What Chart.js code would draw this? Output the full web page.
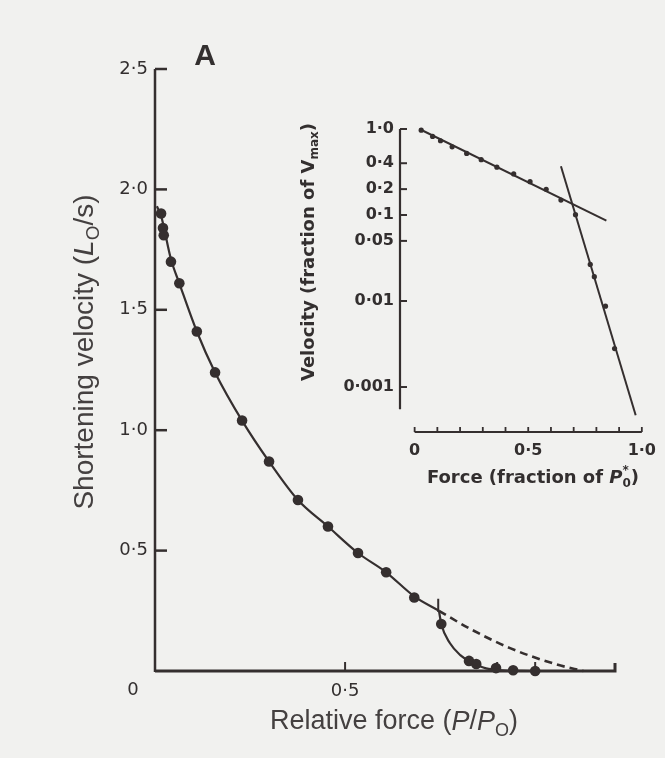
<!DOCTYPE html>
<html>
<head>
<meta charset="utf-8">
<script src="https://cdn.jsdelivr.net/npm/chart.js@4.4.1/dist/chart.umd.min.js"></script>
<style>
  html, body { margin: 0; padding: 0; background: #f1f1ef; }
  #wrap { position: relative; width: 665px; height: 758px; overflow: hidden; }
  #main { position: absolute; left: 0; top: 0; }
  #inset { position: absolute; left: 290px; top: 95px; }
</style>
</head>
<body>
<div id="wrap">
  <canvas id="main" width="665" height="758"></canvas>
  <canvas id="inset" width="375" height="420"></canvas>
</div>
<script>
// Main panel: measured points (relative force P/Po, shortening velocity Lo/s)
const forcePts = [0.016, 0.021, 0.023, 0.042, 0.064, 0.110, 0.158, 0.229, 0.300, 0.376, 0.455, 0.534, 0.608, 0.682, 0.753, 0.826, 0.845, 0.897, 0.942, 1.0];
const velPts   = [1.90, 1.84, 1.81, 1.70, 1.61, 1.41, 1.24, 1.04, 0.87, 0.71, 0.60, 0.49, 0.41, 0.305, 0.195, 0.042, 0.029, 0.012, 0.003, 0.0];

// Hyperbola (solid part), its dashed extrapolation and the high-force branch
const fitF  = [0.005, 0.016, 0.042, 0.064, 0.110, 0.158, 0.229, 0.300, 0.376, 0.455, 0.534, 0.608, 0.682, 0.747];
const fitV  = [1.93, 1.89, 1.71, 1.61, 1.41, 1.24, 1.04, 0.87, 0.71, 0.60, 0.49, 0.41, 0.31, 0.25];
const dashF = [0.747, 0.829, 0.934, 1.057, 1.127];
const dashV = [0.25, 0.175, 0.095, 0.027, 0.0];
const highF = [0.747, 0.753, 0.776, 0.803, 0.829, 0.871, 0.913, 0.992];
const highV = [0.25, 0.195, 0.115, 0.066, 0.039, 0.011, 0.003, 0.0];
const breakF = [0.745, 0.745];
const breakV = [0.30, 0.245];

// Main axes
const yTicksMain = [0.5, 1.0, 1.5, 2.0, 2.5];
const xLabelsMain = [0.5];
const xMarksMain = [0.5, 0.9, 1.0];

// Inset: log velocity (fraction of Vmax) against force (fraction of Po*)
const insetF = [0.029, 0.079, 0.114, 0.165, 0.229, 0.293, 0.362, 0.436, 0.508, 0.579, 0.644, 0.708, 0.773, 0.791, 0.840, 0.880];
const insetV = [0.97, 0.82, 0.73, 0.62, 0.52, 0.44, 0.36, 0.30, 0.244, 0.199, 0.149, 0.101, 0.0266, 0.0192, 0.0087, 0.0028];
const line1F = [0.021, 0.844];
const line1V = [1.0, 0.086];
const line2F = [0.644, 0.973];
const line2V = [0.369, 0.00047];
const yTicksInset = [1.0, 0.4, 0.2, 0.1, 0.05, 0.01, 0.001];
const xLabelsInset = [0, 0.5, 1.0];
const xMarksInset = [0, 0.1, 0.2, 0.3, 0.4, 0.5, 0.6, 0.7, 0.8, 0.9, 1.0];

const ink = '#352f2f';
const textInk = '#332f2f';

const pts = (xs, ys) => xs.map((x, i) => ({ x: x, y: ys[i] }));
const dot = s => s.replace('.', '\u00b7');

// draw text made of pieces (italic / sub / sup), centred on (x, y)
function richText(ctx, parts, x, y, size, family, weight, rot, color) {
  ctx.save();
  ctx.translate(x, y);
  if (rot) ctx.rotate(rot);
  ctx.textBaseline = 'middle';
  ctx.textAlign = 'left';
  ctx.fillStyle = color || textInk;
  const fontOf = p => (p.italic ? 'italic ' : '') + weight + ' ' + (p.small ? Math.round(size * 0.68) : size) + 'px ' + family;
  let total = 0;
  parts.forEach(p => { ctx.font = fontOf(p); if (!p.stack) total += ctx.measureText(p.t).width; });
  let cx = -total / 2;
  parts.forEach(p => {
    ctx.font = fontOf(p);
    const dy = p.sub ? size * 0.32 : (p.sup ? -size * 0.38 : 0);
    ctx.fillText(p.t, cx, dy);
    if (!p.stack) cx += ctx.measureText(p.t).width;
  });
  ctx.restore();
}

const mainDecor = {
  id: 'mainDecor',
  beforeDatasetsDraw(chart) {
    const ctx = chart.ctx, xs = chart.scales.x, ys = chart.scales.y;
    const a = chart.chartArea;
    ctx.save();
    ctx.strokeStyle = ink;
    ctx.lineCap = 'butt';
    // y axis
    ctx.lineWidth = 2.5;
    ctx.beginPath();
    ctx.moveTo(a.left, ys.getPixelForValue(2.5));
    ctx.lineTo(a.left, a.bottom + 1);
    ctx.stroke();
    yTicksMain.forEach(v => {
      const py = ys.getPixelForValue(v);
      ctx.beginPath(); ctx.moveTo(a.left, py); ctx.lineTo(a.left + 12, py); ctx.stroke();
    });
    // x axis
    ctx.lineWidth = 3;
    ctx.beginPath();
    ctx.moveTo(a.left, a.bottom);
    ctx.lineTo(a.right, a.bottom);
    ctx.lineTo(a.right, a.bottom - 8);
    ctx.stroke();
    ctx.lineWidth = 2;
    xMarksMain.forEach(v => {
      const px = xs.getPixelForValue(v);
      ctx.beginPath(); ctx.moveTo(px, a.bottom); ctx.lineTo(px, a.bottom - 9); ctx.stroke();
    });
    ctx.restore();
  },
  afterDraw(chart) {
    const ctx = chart.ctx, a = chart.chartArea;
    ctx.save();
    ctx.fillStyle = textInk;
    ctx.font = '18px "DejaVu Sans"';
    ctx.textAlign = 'center';
    ctx.textBaseline = 'middle';
    ctx.fillText('0', a.left - 22, 690);
    ctx.font = 'bold 30px "Liberation Sans"';
    ctx.fillText('A', 205, 57);
    ctx.restore();
    richText(ctx, [
      { t: 'Relative force (' }, { t: 'P', italic: true }, { t: '/' },
      { t: 'P', italic: true }, { t: 'O', small: true, sub: true }, { t: ')' }
    ], 394, 722, 27, '"Liberation Sans"', 'normal', 0, '#444040');
    richText(ctx, [
      { t: 'Shortening velocity (' }, { t: 'L', italic: true },
      { t: 'O', small: true, sub: true }, { t: '/s)' }
    ], 85, 352, 28, '"Liberation Sans"', 'normal', -Math.PI / 2, '#444040');
  }
};

new Chart(document.getElementById('main'), {
  type: 'scatter',
  data: {
    datasets: [
      { data: pts(fitF, fitV), showLine: true, pointRadius: 0, borderColor: ink, borderWidth: 2.2, cubicInterpolationMode: 'monotone', clip: false },
      { data: pts(dashF, dashV), showLine: true, pointRadius: 0, borderColor: ink, borderWidth: 2.6, borderDash: [8, 5], cubicInterpolationMode: 'monotone', clip: false },
      { data: pts(highF, highV), showLine: true, pointRadius: 0, borderColor: ink, borderWidth: 2.2, cubicInterpolationMode: 'monotone', clip: false },
      { data: pts(breakF, breakV), showLine: true, pointRadius: 0, borderColor: ink, borderWidth: 2, clip: false },
      { data: pts(forcePts, velPts), pointRadius: 5.3, pointBackgroundColor: ink, pointBorderWidth: 0, clip: false }
    ]
  },
  options: {
    responsive: false,
    animation: false,
    events: [],
    layout: { padding: { left: 0, top: 69, right: 50, bottom: 0 } },
    plugins: { legend: { display: false }, tooltip: { enabled: false } },
    scales: {
      x: {
        type: 'linear', min: 0, max: 1.21,
        afterFit: s => { s.height = 87; },
        afterBuildTicks: s => { s.ticks = xLabelsMain.map(v => ({ value: v })); },
        grid: { display: false, drawTicks: false },
        border: { display: false },
        ticks: { autoSkip: false, maxRotation: 0, padding: 10, color: textInk, font: { family: 'DejaVu Sans', size: 18 }, callback: v => dot(v.toFixed(1)) }
      },
      y: {
        type: 'linear', min: 0, max: 2.5,
        afterFit: s => { s.width = 155; },
        afterBuildTicks: s => { s.ticks = yTicksMain.map(v => ({ value: v })); },
        grid: { display: false, drawTicks: false },
        border: { display: false },
        ticks: { autoSkip: false, padding: 7, color: textInk, font: { family: 'DejaVu Sans', size: 18 }, callback: v => dot(v.toFixed(1)) }
      }
    }
  },
  plugins: [mainDecor]
});

const insetDecor = {
  id: 'insetDecor',
  beforeDatasetsDraw(chart) {
    const ctx = chart.ctx, xs = chart.scales.x, ys = chart.scales.y;
    const a = chart.chartArea;
    ctx.save();
    ctx.strokeStyle = ink;
    ctx.lineWidth = 2.2;
    // y axis, detached from the x axis
    ctx.beginPath();
    ctx.moveTo(a.left, ys.getPixelForValue(1.0));
    ctx.lineTo(a.left, ys.getPixelForValue(0.00055));
    ctx.stroke();
    ctx.lineWidth = 2;
    yTicksInset.forEach(v => {
      const py = ys.getPixelForValue(v);
      ctx.beginPath(); ctx.moveTo(a.left, py); ctx.lineTo(a.left + 7, py); ctx.stroke();
    });
    // x axis
    ctx.lineWidth = 2.2;
    ctx.beginPath();
    ctx.moveTo(xs.getPixelForValue(0), a.bottom);
    ctx.lineTo(xs.getPixelForValue(1.0), a.bottom);
    ctx.stroke();
    ctx.lineWidth = 1.8;
    xMarksInset.forEach(v => {
      const px = xs.getPixelForValue(v);
      ctx.beginPath(); ctx.moveTo(px, a.bottom); ctx.lineTo(px, a.bottom - 5); ctx.stroke();
    });
    ctx.restore();
  },
  afterDraw(chart) {
    const ctx = chart.ctx;
    richText(ctx, [
      { t: 'Force (fraction of ' }, { t: 'P', italic: true },
      { t: '*', small: true, sup: true, stack: true }, { t: '0', small: true, sub: true }, { t: ')' }
    ], 243, 383, 18, '"DejaVu Sans"', 'bold', 0);
    richText(ctx, [
      { t: 'Velocity (fraction of V' }, { t: 'max', small: true, sub: true }, { t: ')' }
    ], 19, 157, 18, '"DejaVu Sans"', 'bold', -Math.PI / 2);
  }
};

new Chart(document.getElementById('inset'), {
  type: 'scatter',
  data: {
    datasets: [
      { data: pts(line1F, line1V), showLine: true, pointRadius: 0, borderColor: ink, borderWidth: 2, clip: false },
      { data: pts(line2F, line2V), showLine: true, pointRadius: 0, borderColor: ink, borderWidth: 2, clip: false },
      { data: pts(insetF, insetV), pointRadius: 2.6, pointBackgroundColor: ink, pointBorderWidth: 0, clip: false }
    ]
  },
  options: {
    responsive: false,
    animation: false,
    events: [],
    layout: { padding: { left: 0, top: 34, right: 17, bottom: 0 } },
    plugins: { legend: { display: false }, tooltip: { enabled: false } },
    scales: {
      x: {
        type: 'linear', min: -0.0644, max: 1.0,
        afterFit: s => { s.height = 83; },
        afterBuildTicks: s => { s.ticks = xLabelsInset.map(v => ({ value: v })); },
        grid: { display: false, drawTicks: false },
        border: { display: false },
        ticks: { autoSkip: false, maxRotation: 0, padding: 9, color: textInk, font: { family: 'DejaVu Sans', size: 16, weight: 'bold' }, callback: v => v === 0 ? '0' : dot(v.toFixed(1)) }
      },
      y: {
        type: 'logarithmic', min: 0.00033, max: 1.0,
        afterFit: s => { s.width = 110; },
        afterBuildTicks: s => { s.ticks = yTicksInset.map(v => ({ value: v })); },
        grid: { display: false, drawTicks: false },
        border: { display: false },
        ticks: { autoSkip: false, padding: 6, color: textInk, font: { family: 'DejaVu Sans', size: 16, weight: 'bold' }, callback: v => v === 1 ? '1\u00b70' : dot(String(v)) }
      }
    }
  },
  plugins: [insetDecor]
});
</script>
</body>
</html>
